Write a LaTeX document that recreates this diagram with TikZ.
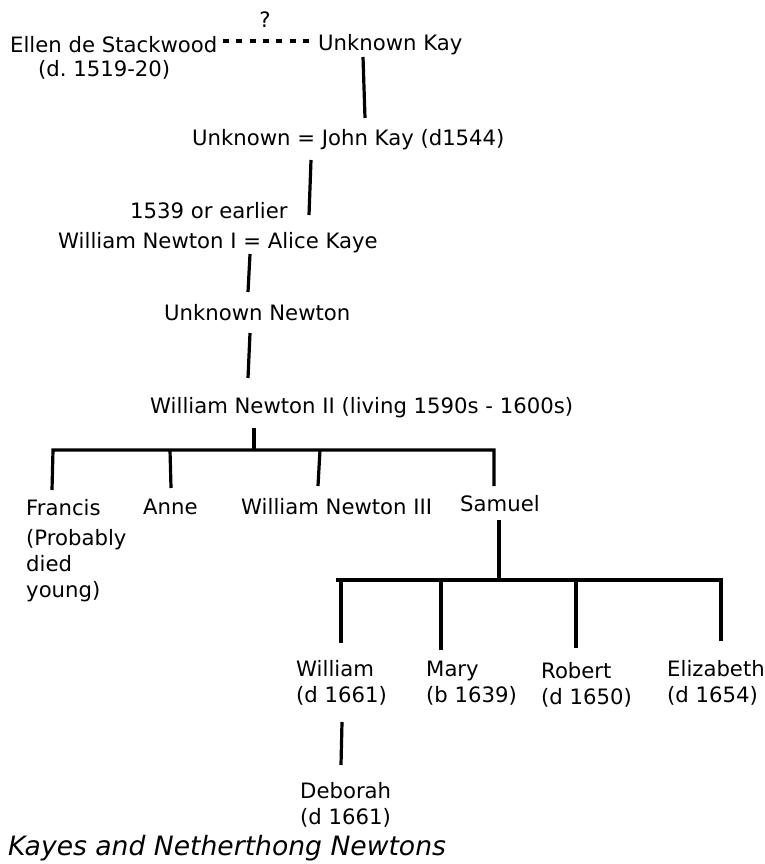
\documentclass[tikz,border=0pt]{standalone}
\usepackage{fontspec}
\setmainfont{DejaVu Sans}
\frenchspacing
\begin{document}
\begin{tikzpicture}[x=1pt,y=-1pt,
  lbl/.style={inner sep=0pt, anchor=west, align=left, font=\fontsize{21.2}{26}\selectfont},
  link/.style={line width=3.2pt},
  dashlink/.style={line width=3.2pt, dash pattern=on 6pt off 7.3pt}]
\useasboundingbox (0,0) rectangle (764,864);
% people
\node[lbl, anchor=center] (q) at (265,20) {?};
\node[lbl] (ellen) at (10,45) {Ellen de Stackwood};
\node[lbl] (ellend) at (38,70) {(d. 1519-20)};
\node[lbl] (ukay) at (318,45) {Unknown Kay};
\node[lbl] (jkay) at (192,140) {Unknown = John Kay (d1544)};
\node[lbl] (y1539) at (130,211) {1539 or earlier};
\node[lbl] (wn1) at (58,243) {William Newton I = Alice Kaye};
\node[lbl] (unewton) at (164,313) {Unknown Newton};
\node[lbl] (wn2) at (150,408) {William Newton II (living 1590s - 1600s)};
\node[lbl] (francis) at (26,508) {Francis};
\node[lbl] (francisn) at (26,566) {(Probably\\died\\young)};
\node[lbl] (anne) at (143,507) {Anne};
\node[lbl] (wn3) at (241,507) {William Newton III};
\node[lbl] (samuel) at (460,504) {Samuel};
\node[lbl] (william) at (296,683) {William\\(d 1661)};
\node[lbl] (mary) at (426,683) {Mary\\(b 1639)};
\node[lbl] (robert) at (541,685) {Robert\\(d 1650)};
\node[lbl] (elizabeth) at (667,683) {Elizabeth\\(d 1654)};
\node[lbl] (deborah) at (300,805) {Deborah\\(d 1661)};
\node[lbl, font=\fontsize{26.6}{30}\selectfont\itshape] (caption) at (8,848) {Kayes and Netherthong Newtons};
% connector end points
\coordinate (d1) at (223,41); \coordinate (d2) at (310,41);
\coordinate (a1) at (363,57); \coordinate (a2) at (365,118);
\coordinate (b1) at (311,160); \coordinate (b2) at (309,215);
\coordinate (c1) at (250,254); \coordinate (c2) at (248,292);
\coordinate (e1) at (250,333); \coordinate (e2) at (248,378);
\coordinate (f1) at (254,428); \coordinate (f2) at (254,450);
\coordinate (fl) at (53,450); \coordinate (fr) at (494,450);
\coordinate (g1) at (52,490);
\coordinate (h0) at (170,450); \coordinate (h1) at (171,488);
\coordinate (i0) at (320,450); \coordinate (i1) at (318,486);
\coordinate (j1) at (494,486);
\coordinate (k1) at (499,520); \coordinate (k2) at (499,580);
\coordinate (kl) at (341,580); \coordinate (kr) at (721,580);
\coordinate (m1) at (341,643);
\coordinate (n0) at (441,580); \coordinate (n1) at (441,650);
\coordinate (o0) at (576,578); \coordinate (o1) at (576,648);
\coordinate (p1) at (721,641);
\coordinate (r1) at (342,722); \coordinate (r2) at (341,765);
% connectors
\draw[dashlink] (d1) -- (d2);
\draw[link] (a1) -- (a2);
\draw[link] (b1) -- (b2);
\draw[link] (c1) -- (c2);
\draw[link] (e1) -- (e2);
\draw[link] (f1) -- (f2);
\draw[link] (g1) -- (fl) -- (fr) -- (j1);
\draw[link] (h0) -- (h1);
\draw[link] (i0) -- (i1);
\draw[link] (k1) -- (k2);
\draw[link] ([xshift=-5pt]kl) -- (kr) -- (p1);
\draw[link] (kl) -- (m1);
\draw[link] (n0) -- (n1);
\draw[link] (o0) -- (o1);
\draw[link] (r1) -- (r2);
\end{tikzpicture}
\end{document}
